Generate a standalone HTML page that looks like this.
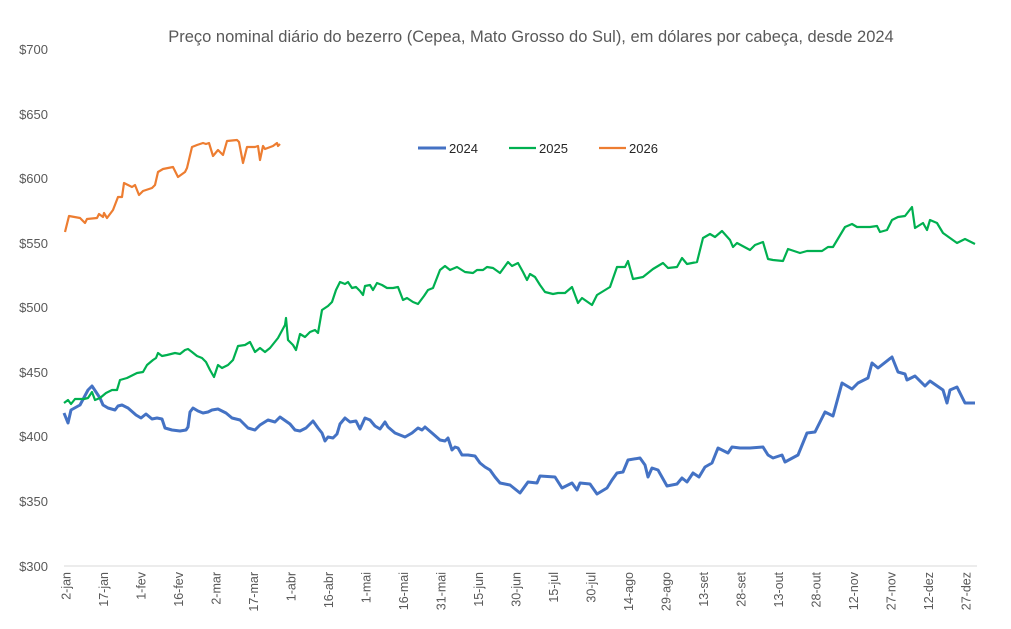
<!DOCTYPE html>
<html><head><meta charset="utf-8"><style>
body{margin:0;background:#fff}
svg{display:block;font-family:"Liberation Sans",sans-serif}
</style></head><body>
<svg width="1011" height="629" viewBox="0 0 1011 629">
<text x="531" y="42" text-anchor="middle" font-size="16.5" fill="#595959">Preço nominal diário do bezerro (Cepea, Mato Grosso do Sul), em dólares por cabeça, desde 2024</text>
<g font-size="13" fill="#595959" text-anchor="end">
<text x="48" y="54">$700</text><text x="48" y="119">$650</text><text x="48" y="183">$600</text><text x="48" y="248">$550</text><text x="48" y="312">$500</text><text x="48" y="377">$450</text><text x="48" y="441">$400</text><text x="48" y="506">$350</text><text x="48" y="571">$300</text>
</g>
<line x1="64" y1="566" x2="977" y2="566" stroke="#d9d9d9" stroke-width="1"/>
<g font-size="12.5" fill="#595959" text-anchor="end" id="xl"></g>
<polyline fill="none" stroke="#4472c4" stroke-width="3" stroke-linejoin="round" points="64,413 68,423 71,410 80,405 88,390 92,386 96,392 100,398 103,405 108,408 115,410 118,406 122,405 128,408 136,415 141,418 146,414 152,419 157,418 162,419 165,428 172,430 180,431 186,430 188,427 190,412 193,408 198,411 203,413 208,412 212,410 218,409 222,411 226,413 232,418 240,420 248,428 255,430 260,425 268,420 275,422 280,417 290,424 295,430 300,431 306,428 313,421 318,428 322,433 325,441 328,437 333,438 337,434 340,424 345,418 350,422 356,421 360,429 365,418 370,420 375,426 380,429 385,422 388,427 395,433 405,437 412,433 418,428 422,430 425,427 432,433 440,440 445,441 448,438 452,450 455,447 458,448 462,455 468,455 475,456 480,463 485,467 490,470 495,477 500,483 510,485 520,493 528,482 537,483 540,476 555,477 562,488 572,483 577,490 580,483 590,484 597,494 607,488 612,480 617,473 623,472 628,460 640,458 645,465 648,477 652,468 658,470 667,486 677,484 682,478 687,482 693,473 699,477 705,467 712,463 718,448 728,453 732,447 740,448 750,448 763,447 768,455 773,458 782,455 785,462 798,455 807,433 815,432 825,412 833,416 842,383 852,389 858,383 868,378 872,363 878,368 892,357 898,372 905,374 907,380 915,376 925,386 930,381 943,390 947,403 950,390 957,387 965,403 975,403"/>
<polyline fill="none" stroke="#00b050" stroke-width="2.2" stroke-linejoin="round" points="64,403 68,400 71,404 75,399 84,399 88,398 92,392 95,400 100,398 106,393 112,390 117,390 120,380 127,378 133,375 137,373 143,372 147,365 153,360 156,358 158,353 162,356 167,355 175,353 180,354 185,350 188,349 192,352 197,356 202,358 206,362 210,370 214,377 218,365 222,368 228,365 233,360 238,346 245,345 250,342 255,352 260,348 265,352 270,348 278,338 285,325 286,318 288,340 293,345 296,350 300,334 305,337 310,332 315,330 318,333 322,310 328,306 332,302 336,290 340,282 345,284 348,282 352,288 356,287 360,291 363,295 365,286 370,285 373,290 377,283 382,285 387,288 393,288 398,287 403,300 407,298 413,302 418,304 424,296 428,290 433,288 440,270 445,266 450,270 457,267 465,272 473,273 477,270 483,270 487,267 493,268 500,273 508,262 512,266 518,263 523,272 527,280 530,274 535,277 540,285 545,292 553,294 558,293 565,293 572,287 578,303 582,298 592,305 597,295 610,287 617,267 625,267 628,261 633,279 643,277 653,269 663,263 668,268 677,267 682,258 687,264 697,262 703,238 710,234 715,237 722,231 730,240 733,247 737,243 750,250 755,245 763,242 768,259 773,260 783,261 788,249 800,253 807,251 822,251 828,247 833,247 845,227 852,224 857,227 870,227 877,226 880,232 887,230 892,220 898,217 905,216 912,207 915,228 923,223 927,230 930,220 937,223 943,233 957,243 965,239 975,244"/>
<polyline fill="none" stroke="#ed7d31" stroke-width="2.2" stroke-linejoin="round" points="65,232 69,216 80,218 85,223 87,219 97,218 99,214 103,217 104,213 107,218 113,210 118,197 122,197 124,183 132,187 135,185 139,195 143,191 152,188 155,185 158,172 163,169 173,167 178,177 185,172 187,168 192,147 197,145 203,143 206,144 209,143 213,156 218,150 223,155 227,141 237,140 239,142 243,163 247,147 255,147 258,146 260,160 263,146 265,149 273,146 277,143 278,146 280,144"/>
<g font-size="13" fill="#262626">
<line x1="418" y1="148" x2="446" y2="148" stroke="#4472c4" stroke-width="3"/><text x="449" y="153">2024</text>
<line x1="509" y1="148" x2="536" y2="148" stroke="#00b050" stroke-width="2.2"/><text x="539" y="153">2025</text>
<line x1="599" y1="148" x2="626" y2="148" stroke="#ed7d31" stroke-width="2.2"/><text x="629" y="153">2026</text>
</g>
</svg>
<script>
var L=["2-jan","17-jan","1-fev","16-fev","2-mar","17-mar","1-abr","16-abr","1-mai","16-mai","31-mai","15-jun","30-jun","15-jul","30-jul","14-ago","29-ago","13-set","28-set","13-out","28-out","12-nov","27-nov","12-dez","27-dez"];
var g=document.getElementById("xl"),s="";
L.forEach(function(t,i){var x=66+i*37.5;s+='<text transform="translate('+(x+4.5)+',572) rotate(-90)">'+t+'</text>';});
g.innerHTML=s;
</script>
</body></html>
